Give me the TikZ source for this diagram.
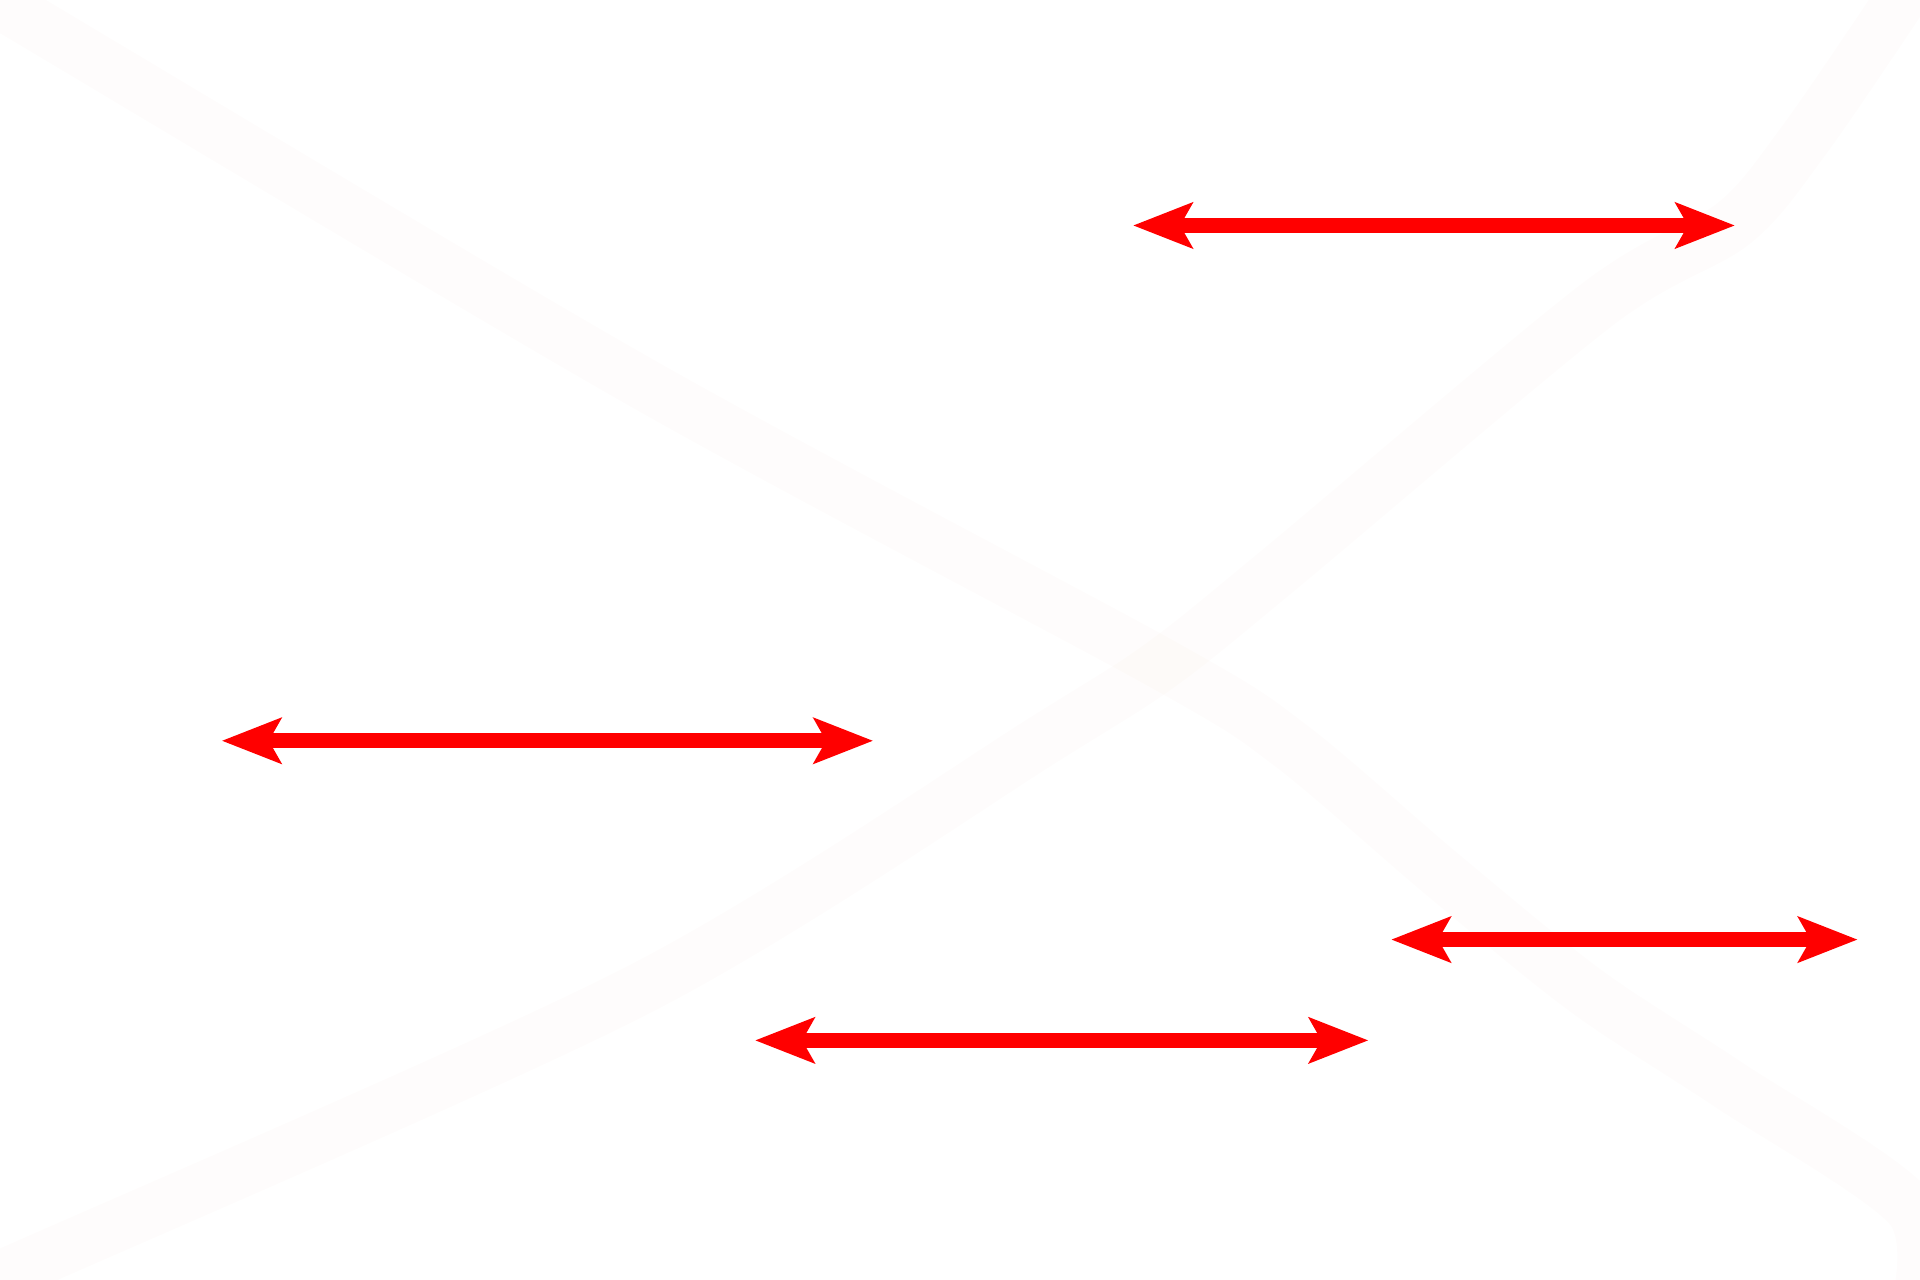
\documentclass[tikz,border=0pt]{standalone}
\usepackage{amsmath}
\usetikzlibrary{arrows.meta}

\definecolor{trace}{RGB}{230,190,170}
\tikzset{
  span/.style={draw=red, line width=0.147cm,
    {Stealth[length=0.59cm, width=0.448cm, inset=0.12cm]}-{Stealth[length=0.59cm, width=0.448cm, inset=0.12cm]}},
  trail/.style={draw=trace, draw opacity=0.04, line width=0.52cm, line join=round}
}

\begin{document}
\begin{tikzpicture}
        \useasboundingbox (0, 0) rectangle (19.2, 12.8) ;
\clip (0, 0) rectangle (19.2, 12.8) ;
\draw[trail] plot[smooth, tension=0.5] coordinates {(-0.2, 12.88) (0, 12.77) (6.40, 8.98) (11.62, 6.16) (12.90, 5.35) (14.43, 4.05) (15.86, 2.89) (17.29, 1.95) (19.10, 0.72) (19.16, -0.3)} ; % Trail.0
\draw[trail] plot[smooth, tension=0.5] coordinates {(-0.2, -0.07) (0, 0.03) (6.40, 2.91) (10.48, 5.43) (11.62, 6.16) (12.80, 7.11) (15.98, 9.76) (17.33, 10.56) (18.02, 11.37) (18.92, 12.68) (19.05, 12.9)} ; % Trail.1
\coordinate (s0l) at (11.33, 10.545) ; % Span.0
\coordinate (s0r) at (17.35, 10.545) ; % Span.0
\coordinate (s1l) at (2.217, 5.392) ; % Span.1
\coordinate (s1r) at (8.732, 5.392) ; % Span.1
\coordinate (s2l) at (13.911, 3.404) ; % Span.2
\coordinate (s2r) at (18.577, 3.404) ; % Span.2
\coordinate (s3l) at (7.55, 2.396) ; % Span.3
\coordinate (s3r) at (13.685, 2.396) ; % Span.3
\draw[span] (s0l) -- (s0r) ; % Span.0
\draw[span] (s1l) -- (s1r) ; % Span.1
\draw[span] (s2l) -- (s2r) ; % Span.2
\draw[span] (s3l) -- (s3r) ; % Span.3

        \end{tikzpicture}
\end{document}
